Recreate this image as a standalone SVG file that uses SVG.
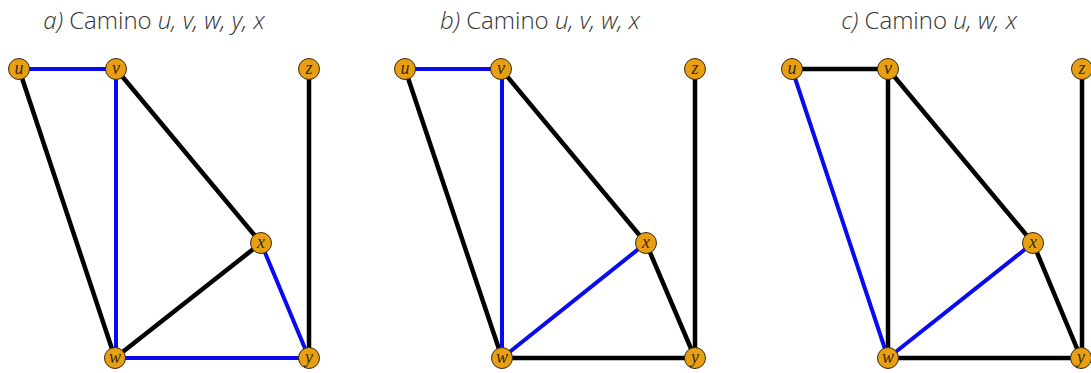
<svg xmlns="http://www.w3.org/2000/svg" width="1091" height="373" viewBox="0 0 1091 373">
<style>
.title{font-family:"Open Sans","Liberation Sans",sans-serif;font-weight:300;font-size:24px;fill:#333;text-anchor:middle}
.title .i{font-style:italic}
.e{stroke-width:4.5;stroke-linecap:round;fill:none}
.k{stroke:#000}
.b{stroke:#0a0af0;stroke-width:4}
.n circle{fill:#e8a012;stroke:#3a2a10;stroke-width:1}
.n text{font-family:"Liberation Serif","DejaVu Serif",serif;font-style:italic;font-size:18px;fill:#3a2a10;text-anchor:middle}
</style>
<rect width="1091" height="373" fill="#fff"/>
<g id="titles">
<text class="title" x="154" y="29"><tspan class="i">a)</tspan> Camino <tspan class="i">u, v, w, y, x</tspan></text>
<text class="title" x="540" y="29"><tspan class="i">b)</tspan> Camino <tspan class="i">u, v, w, x</tspan></text>
<text class="title" x="929" y="29"><tspan class="i">c)</tspan> Camino <tspan class="i">u, w, x</tspan></text>
</g>
<g id="connectors">
<!-- panel a -->
<line class="e k" x1="19" y1="69" x2="115" y2="358"/>
<line class="e k" x1="116" y1="69" x2="261" y2="243"/>
<line class="e k" x1="261" y1="243" x2="115" y2="358"/>
<line class="e k" x1="309" y1="69" x2="309" y2="358"/>
<line class="e b" x1="19" y1="69" x2="116" y2="69"/>
<line class="e b" x1="116" y1="69" x2="116" y2="358"/>
<line class="e b" x1="115" y1="358" x2="309" y2="358"/>
<line class="e b" x1="309" y1="358" x2="261" y2="243"/>
<!-- panel b -->
<line class="e k" x1="405" y1="69" x2="502" y2="358"/>
<line class="e k" x1="501" y1="69" x2="646" y2="243"/>
<line class="e k" x1="646" y1="243" x2="695" y2="358"/>
<line class="e k" x1="502" y1="358" x2="695" y2="358"/>
<line class="e k" x1="695" y1="69" x2="695" y2="358"/>
<line class="e b" x1="405" y1="69" x2="501" y2="69"/>
<line class="e b" x1="502" y1="69" x2="502" y2="358"/>
<line class="e b" x1="502" y1="358" x2="646" y2="243"/>
<!-- panel c -->
<line class="e k" x1="792" y1="69" x2="888" y2="69"/>
<line class="e k" x1="888" y1="69" x2="888" y2="358"/>
<line class="e k" x1="888" y1="69" x2="1033" y2="243"/>
<line class="e k" x1="1033" y1="243" x2="1081" y2="358"/>
<line class="e k" x1="888" y1="358" x2="1081" y2="358"/>
<line class="e k" x1="1082" y1="69" x2="1082" y2="358"/>
<line class="e b" x1="792" y1="69" x2="888" y2="358"/>
<line class="e b" x1="888" y1="358" x2="1033" y2="243"/>
</g>
<g id="a-u" class="n"><circle cx="19" cy="69" r="10.5"/><text x="19" y="74">u</text></g>
<g id="a-v" class="n"><circle cx="116" cy="69" r="10.5"/><text x="116" y="74">v</text></g>
<g id="a-z" class="n"><circle cx="309" cy="69" r="10.5"/><text x="309" y="74">z</text></g>
<g id="a-x" class="n"><circle cx="261" cy="243" r="10.5"/><text x="261" y="248">x</text></g>
<g id="a-w" class="n"><circle cx="115" cy="358" r="10.5"/><text x="115" y="363">w</text></g>
<g id="a-y" class="n"><circle cx="309" cy="358" r="10.5"/><text x="309" y="363">y</text></g>
<g id="b-u" class="n"><circle cx="405" cy="69" r="10.5"/><text x="405" y="74">u</text></g>
<g id="b-v" class="n"><circle cx="501" cy="69" r="10.5"/><text x="501" y="74">v</text></g>
<g id="b-z" class="n"><circle cx="695" cy="69" r="10.5"/><text x="695" y="74">z</text></g>
<g id="b-x" class="n"><circle cx="646" cy="243" r="10.5"/><text x="646" y="248">x</text></g>
<g id="b-w" class="n"><circle cx="502" cy="358" r="10.5"/><text x="502" y="363">w</text></g>
<g id="b-y" class="n"><circle cx="695" cy="358" r="10.5"/><text x="695" y="363">y</text></g>
<g id="c-u" class="n"><circle cx="792" cy="69" r="10.5"/><text x="792" y="74">u</text></g>
<g id="c-v" class="n"><circle cx="888" cy="69" r="10.5"/><text x="888" y="74">v</text></g>
<g id="c-z" class="n"><circle cx="1082" cy="69" r="10.5"/><text x="1082" y="74">z</text></g>
<g id="c-x" class="n"><circle cx="1033" cy="243" r="10.5"/><text x="1033" y="248">x</text></g>
<g id="c-w" class="n"><circle cx="888" cy="358" r="10.5"/><text x="888" y="363">w</text></g>
<g id="c-y" class="n"><circle cx="1081" cy="358" r="10.5"/><text x="1081" y="363">y</text></g>
</svg>
